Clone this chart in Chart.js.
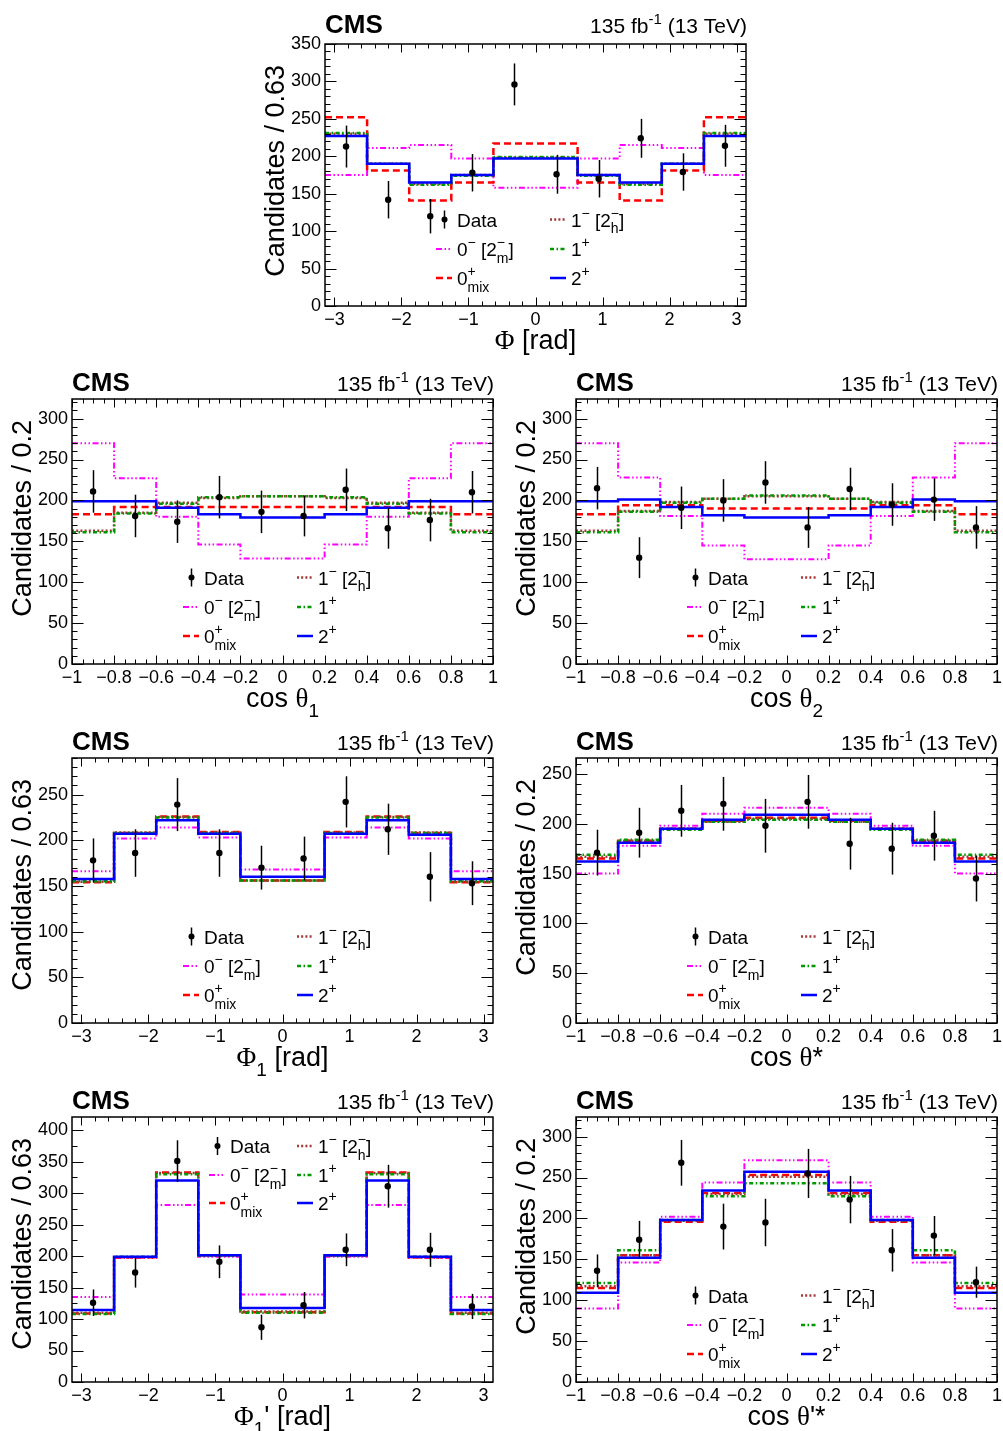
<!DOCTYPE html>
<html><head><meta charset="utf-8">
<script src="https://cdn.jsdelivr.net/npm/chart.js@4/dist/chart.umd.min.js"></script>
<style>
html,body{margin:0;padding:0;background:#fff;}
body{width:1003px;height:1431px;position:relative;overflow:hidden;}
canvas{position:absolute;}
</style></head><body>
<script>
// ---------- tick labels ----------
const phiTicks = [-3, -2, -1, 0, 1, 2, 3];
const cosTicks = [-1, -0.8, -0.6, -0.4, -0.2, 0, 0.2, 0.4, 0.6, 0.8, 1];
const yTicks350 = [0, 50, 100, 150, 200, 250, 300, 350];
const yTicks300 = [0, 50, 100, 150, 200, 250, 300];
const yTicks250 = [0, 50, 100, 150, 200, 250];
const yTicks400 = [0, 50, 100, 150, 200, 250, 300, 350, 400];

// ---------- Phi ----------
const phiData = [213, 142, 120, 178, 296, 176, 170, 224, 179, 214];
const phiErr  = [28, 25, 23, 25, 28, 26, 25, 26, 25, 28];
const phi0m   = [175, 211, 215, 197, 158, 158, 197, 215, 211, 175];
const phi0mix = [252, 181, 141, 165, 217, 217, 165, 141, 181, 252];
const phi1m   = [230, 190, 163, 175, 198, 198, 175, 163, 190, 230];
const phi1p   = [231, 190, 162, 174, 199, 199, 174, 162, 190, 231];
const phi2p   = [227, 190, 165, 175, 197, 197, 175, 165, 190, 227];

// ---------- cos theta1 ----------
const ct1Data = [211, 181, 174, 204, 186, 181, 213, 166, 176, 210];
const ct1Err  = [26, 26, 26, 26, 26, 25, 26, 25, 26, 26];
const ct10m   = [270, 227, 180, 146, 129, 129, 146, 180, 227, 270];
const ct10mix = [183, 192, 192, 192, 192, 192, 192, 192, 192, 183];
const ct11m   = [163, 185, 197, 203, 205, 205, 203, 197, 185, 163];
const ct11p   = [161, 184, 196, 204, 205, 205, 204, 196, 184, 161];
const ct12p   = [199, 199, 191, 183, 179, 179, 183, 191, 199, 199];

// ---------- cos theta2 ----------
const ct2Data = [215, 130, 191, 200, 222, 167, 214, 195, 201, 167];
const ct2Err  = [26, 25, 26, 26, 26, 25, 26, 26, 26, 26];
const ct20m   = [270, 228, 181, 145, 128, 128, 145, 181, 228, 270];
const ct20mix = [183, 194, 194, 190, 190, 190, 190, 194, 194, 183];
const ct21m   = [163, 187, 198, 202, 205, 205, 202, 198, 187, 163];
const ct21p   = [161, 186, 197, 202, 206, 206, 202, 197, 186, 161];
const ct22p   = [199, 201, 192, 182, 179, 179, 182, 192, 201, 199];

// ---------- Phi1 ----------
const phi1Data = [178, 186, 239, 186, 170, 180, 242, 212, 160, 153];
const phi1Err  = [24, 26, 29, 26, 24, 24, 28, 28, 27, 24];
const phi10m   = [166, 202, 214, 203, 168, 168, 203, 214, 202, 166];
const phi10mix = [154, 208, 226, 209, 156, 156, 209, 226, 208, 154];
const phi11m   = [154.5, 208.5, 225.5, 208.5, 156, 156, 208.5, 225.5, 208.5, 154.5];
const phi11p   = [155, 208, 225, 208, 156, 156, 208, 225, 208, 155];
const phi12p   = [157.5, 207, 222, 207, 160, 160, 207, 222, 206, 157.5];

// ---------- cos theta* ----------
const ctsData = [171, 191, 213, 220, 198, 222, 180, 175, 188, 145];
const ctsErr  = [23, 25, 26, 27, 27, 27, 26, 26, 25, 23];
const cts0m   = [150, 178, 198, 210, 216, 216, 210, 198, 178, 150];
const cts0mix = [165, 183, 195, 203, 206, 206, 203, 195, 183, 165];
const cts1m   = [167, 183, 195, 202, 205, 205, 202, 195, 183, 167];
const cts1p   = [169, 184, 194, 202, 204, 204, 202, 194, 184, 169];
const cts2p   = [162, 181, 195, 204, 209, 209, 204, 195, 181, 162];

// ---------- Phi1' ----------
const phi1pData = [126, 174, 351, 191, 87, 122, 210, 311, 210, 120];
const phi1pErr  = [21, 24, 33, 26, 20, 21, 26, 34, 27, 20];
const phi1p0m   = [135, 197, 281, 199, 139, 139, 199, 281, 197, 135];
const phi1p0mix = [109, 198, 333, 201.5, 111, 111, 201.5, 333, 198, 109];
const phi1p1m   = [110, 198, 332, 201, 112, 112, 201, 332, 198, 110];
const phi1p1p   = [108, 199, 330, 201, 110, 110, 201, 330, 199, 108];
const phi1p2p   = [114.5, 199, 320, 201.5, 117.5, 117.5, 201.5, 320, 199, 114.5];

// ---------- cos theta'* ----------
const ctpsData = [136, 174, 268, 190, 195, 255, 223, 161, 179, 122];
const ctpsErr  = [20, 23, 28, 28, 29, 30, 29, 26, 24, 19];
const ctps0m   = [90, 146, 202, 244, 271, 271, 244, 202, 146, 90];
const ctps0mix = [115, 155, 196, 231, 253, 253, 231, 196, 155, 115];
const ctps1m   = [117, 155, 197, 230, 251, 251, 230, 197, 155, 117];
const ctps1p   = [121, 161, 198, 227, 243, 243, 227, 198, 161, 121];
const ctps2p   = [109, 152, 198, 234, 257, 257, 234, 198, 152, 109];

// ---------- styling ----------
const SANS = '"Liberation Sans", Arial, Helvetica, sans-serif';
const SERIF = '"Liberation Serif", "Times New Roman", serif';
const STY = {
  m0:  {color: '#ff00ff', width: 2,   dash: [6, 2.5, 1.5, 2.5, 1.5, 2.5, 1.5, 2.5]},
  mix: {color: '#ff0000', width: 2.5, dash: [7, 4]},
  m1:  {color: '#a33636', width: 2.5, dash: [2, 2.2]},
  p1:  {color: '#009a00', width: 2.5, dash: [4, 2.5, 1.5, 2.5]},
  p2:  {color: '#0000ff', width: 2.5, dash: []}
};
const MARG = {l: 75, r: 8, t: 45, b: 60};
const FW = 421;
const TICKFONT = 18;
const TITLEFONT = 27;

const PI = Math.PI;
const panels = [
  {L: 325, T: 44, H: 262, xmin: -PI, xmax: PI, xt: phiTicks, xMaj: 1, xMin: 0.2, ymax: 350, yt: yTicks350, yMaj: 50, yMin: 10,
   yTitle: 'Candidates / 0.63', xTitle: [{t: 'Φ', fam: SERIF}, {t: ' [rad]'}],
   d: phiData, e: phiErr, h: {m0: phi0m, mix: phi0mix, m1: phi1m, p1: phi1p, p2: phi2p}, leg: 'bottom', cms: 11},
  {L: 72, T: 399, H: 265, xmin: -1, xmax: 1, xt: cosTicks, xMaj: 0.2, xMin: 0.05, ymax: 324, yt: yTicks300, yMaj: 50, yMin: 10,
   yTitle: 'Candidates / 0.2', xTitle: [{t: 'cos '}, {t: 'θ', fam: SERIF}, {t: '1', sub: 1}],
   d: ct1Data, e: ct1Err, h: {m0: ct10m, mix: ct10mix, m1: ct11m, p1: ct11p, p2: ct12p}, leg: 'bottom', cms: 8},
  {L: 576, T: 399, H: 265, xmin: -1, xmax: 1, xt: cosTicks, xMaj: 0.2, xMin: 0.05, ymax: 324, yt: yTicks300, yMaj: 50, yMin: 10,
   yTitle: 'Candidates / 0.2', xTitle: [{t: 'cos '}, {t: 'θ', fam: SERIF}, {t: '2', sub: 1}],
   d: ct2Data, e: ct2Err, h: {m0: ct20m, mix: ct20mix, m1: ct21m, p1: ct21p, p2: ct22p}, leg: 'bottom', cms: 8},
  {L: 72, T: 758, H: 265, xmin: -PI, xmax: PI, xt: phiTicks, xMaj: 1, xMin: 0.2, ymax: 290, yt: yTicks250, yMaj: 50, yMin: 10,
   yTitle: 'Candidates / 0.63', xTitle: [{t: 'Φ', fam: SERIF}, {t: '1', sub: 1}, {t: ' [rad]'}],
   d: phi1Data, e: phi1Err, h: {m0: phi10m, mix: phi10mix, m1: phi11m, p1: phi11p, p2: phi12p}, leg: 'bottom', cms: 8},
  {L: 576, T: 758, H: 265, xmin: -1, xmax: 1, xt: cosTicks, xMaj: 0.2, xMin: 0.05, ymax: 266, yt: yTicks250, yMaj: 50, yMin: 10,
   yTitle: 'Candidates / 0.2', xTitle: [{t: 'cos '}, {t: 'θ', fam: SERIF}, {t: '*'}],
   d: ctsData, e: ctsErr, h: {m0: cts0m, mix: cts0mix, m1: cts1m, p1: cts1p, p2: cts2p}, leg: 'bottom', cms: 8},
  {L: 72, T: 1117, H: 265, xmin: -PI, xmax: PI, xt: phiTicks, xMaj: 1, xMin: 0.2, ymax: 421, yt: yTicks400, yMaj: 50, yMin: 25,
   yTitle: 'Candidates / 0.63', xTitle: [{t: 'Φ', fam: SERIF}, {t: '1', sub: 1}, {t: '\' [rad]'}],
   d: phi1pData, e: phi1pErr, h: {m0: phi1p0m, mix: phi1p0mix, m1: phi1p1m, p1: phi1p1p, p2: phi1p2p}, leg: 'top', cms: 8},
  {L: 576, T: 1117, H: 265, xmin: -1, xmax: 1, xt: cosTicks, xMaj: 0.2, xMin: 0.05, ymax: 324, yt: yTicks300, yMaj: 50, yMin: 10,
   yTitle: 'Candidates / 0.2', xTitle: [{t: 'cos '}, {t: 'θ', fam: SERIF}, {t: '\'*'}],
   d: ctpsData, e: ctpsErr, h: {m0: ctps0m, mix: ctps0mix, m1: ctps1m, p1: ctps1p, p2: ctps2p}, leg: 'bottom', cms: 8}
];

const LEG = [
  [{k: 'data', s: [{t: 'Data'}]},
   {k: 'm1', s: [{t: '1'}, {t: '\u2212', sup: 1}, {t: ' [2'}, {stack: [{t: '\u2212', sup: 1}, {t: 'h', sub: 1}]}, {t: ']'}]}],
  [{k: 'm0', s: [{t: '0'}, {t: '\u2212', sup: 1}, {t: ' [2'}, {stack: [{t: '\u2212', sup: 1}, {t: 'm', sub: 1}]}, {t: ']'}]},
   {k: 'p1', s: [{t: '1'}, {t: '+', sup: 1}]}],
  [{k: 'mix', s: [{t: '0'}, {stack: [{t: '+', sup: 1}, {t: 'mix', sub: 1}]}]},
   {k: 'p2', s: [{t: '2'}, {t: '+', sup: 1}]}]
];

// ---------- helpers ----------
function edgesOf(xmin, xmax, n) { const e = []; for (let i = 0; i <= n; i++) e.push(xmin + (xmax - xmin) * i / n); return e; }
function histPts(e, v) { const p = v.map((y, i) => ({x: e[i], y})); p.push({x: e[e.length - 1], y: v[v.length - 1]}); return p; }
function centersOf(e) { return e.slice(0, -1).map((x, i) => (x + e[i + 1]) / 2); }
const fmt = v => (Math.round(v * 100) / 100).toString().replace('-', '\u2212');

function segFont(s, base) {
  const size = s.size || ((s.sup || s.sub) ? Math.round(base.size * 0.72) : base.size);
  return ((s.bold || base.bold) ? 'bold ' : '') + size + 'px ' + (s.fam || base.fam);
}
function segDy(s, base) {
  if (s.dy !== undefined) return s.dy;
  if (s.sup) return -base.size * 0.47;
  if (s.sub) return base.size * 0.36;
  return 0;
}
function segW(ctx, s, base) {
  if (s.stack) return Math.max(...s.stack.map(q => segW(ctx, q, base)));
  ctx.font = segFont(s, base); return ctx.measureText(s.t).width;
}
function drawSegs(ctx, segs, x, y, align, base) {
  ctx.save(); ctx.fillStyle = '#000'; ctx.textAlign = 'left'; ctx.textBaseline = 'alphabetic';
  const w = segs.reduce((a, s) => a + segW(ctx, s, base), 0);
  let cx = align === 'center' ? x - w / 2 : (align === 'right' ? x - w : x);
  for (const s of segs) {
    const sw = segW(ctx, s, base);
    for (const q of (s.stack || [s])) { ctx.font = segFont(q, base); ctx.fillText(q.t, cx, y + segDy(q, base)); }
    cx += sw;
  }
  ctx.restore();
}

function rootPlugin(p, idx) {
  const edges = edgesOf(p.xmin, p.xmax, p.d.length);
  const cen = centersOf(edges);
  return {
    id: 'rootStyle' + idx,
    afterDatasetsDraw(chart) {
      const ctx = chart.ctx, xs = chart.scales.x, ys = chart.scales.y;
      ctx.save(); ctx.strokeStyle = '#000'; ctx.lineWidth = 1.5;
      p.d.forEach((v, i) => {
        const x = Math.round(xs.getPixelForValue(cen[i])) + 0.5;
        ctx.beginPath();
        ctx.moveTo(x, ys.getPixelForValue(v - p.e[i]));
        ctx.lineTo(x, ys.getPixelForValue(v + p.e[i]));
        ctx.stroke();
      });
      ctx.restore();
    },
    afterDraw(chart) {
      const ctx = chart.ctx, xs = chart.scales.x, ys = chart.scales.y, a = chart.chartArea;
      ctx.save();
      ctx.strokeStyle = '#000';
      ctx.lineWidth = 1;
      ctx.beginPath();
      const k0 = Math.ceil(p.xmin / p.xMin - 1e-6), k1 = Math.floor(p.xmax / p.xMin + 1e-6);
      for (let k = k0; k <= k1; k++) {
        const v = k * p.xMin;
        const r = v / p.xMaj; const maj = Math.abs(r - Math.round(r)) < 1e-6;
        const len = maj ? 8.5 : 4.5;
        const x = Math.round(xs.getPixelForValue(v)) + 0.5;
        ctx.moveTo(x, a.bottom); ctx.lineTo(x, a.bottom - len);
        ctx.moveTo(x, a.top); ctx.lineTo(x, a.top + len);
      }
      const j1 = Math.floor(p.ymax / p.yMin + 1e-6);
      for (let j = 0; j <= j1; j++) {
        const v = j * p.yMin;
        const r = v / p.yMaj; const maj = Math.abs(r - Math.round(r)) < 1e-6;
        const len = maj ? 11.5 : 5.5;
        const y = Math.round(ys.getPixelForValue(v)) + 0.5;
        ctx.moveTo(a.left, y); ctx.lineTo(a.left + len, y);
        ctx.moveTo(a.right, y); ctx.lineTo(a.right - len, y);
      }
      ctx.stroke();
      ctx.lineWidth = 1.5;
      ctx.strokeRect(a.left, a.top, a.right - a.left, a.bottom - a.top);
      ctx.restore();

      drawSegs(ctx, [{t: 'CMS', bold: 1}], a.left, a.top - p.cms, 'left', {size: 26, fam: SANS});
      drawSegs(ctx, [{t: '135 fb'}, {t: '-1', size: 15, dy: -9}, {t: ' (13 TeV)'}], a.right + 1, a.top - p.cms, 'right', {size: 21, fam: SANS});
      drawSegs(ctx, p.xTitle, (a.left + a.right) / 2, a.bottom + 43, 'center', {size: TITLEFONT, fam: SANS});
      ctx.save();
      ctx.translate(a.left - 41, a.top + 21);
      ctx.rotate(-Math.PI / 2);
      drawSegs(ctx, [{t: p.yTitle}], 0, 0, 'right', {size: TITLEFONT, fam: SANS});
      ctx.restore();

      let rowsY, colX;
      if (p.leg === 'top') { rowsY = [a.top + 29, a.top + 58, a.top + 86]; colX = [a.left + 158, a.left + 246]; }
      else { rowsY = [a.bottom - 86.5, a.bottom - 57, a.bottom - 28]; colX = [a.left + 132, a.left + 246]; }
      LEG.forEach((row, ri) => row.forEach((ent, ci) => {
        const tx = colX[ci], yc = rowsY[ri];
        ctx.save();
        if (ent.k === 'data') {
          const mx = Math.round(tx - 13) + 0.5;
          ctx.strokeStyle = '#000'; ctx.lineWidth = 1.5;
          ctx.beginPath(); ctx.moveTo(mx, yc - 9); ctx.lineTo(mx, yc + 9); ctx.stroke();
          ctx.fillStyle = '#000'; ctx.beginPath(); ctx.arc(mx, yc, 3, 0, 2 * Math.PI); ctx.fill();
        } else {
          const st = STY[ent.k];
          ctx.strokeStyle = st.color; ctx.lineWidth = st.width; ctx.setLineDash(st.dash);
          ctx.beginPath(); ctx.moveTo(tx - 21, yc); ctx.lineTo(tx - 5, yc); ctx.stroke();
        }
        ctx.restore();
        drawSegs(ctx, ent.s, tx, yc + 7, 'left', {size: 19, fam: SANS});
      }));
    }
  };
}

panels.forEach((p, idx) => {
  const cv = document.createElement('canvas');
  const W = MARG.l + FW + MARG.r, Hc = MARG.t + p.H + MARG.b;
  cv.width = W; cv.height = Hc;
  cv.style.left = (p.L - MARG.l) + 'px'; cv.style.top = (p.T - MARG.t) + 'px';
  cv.style.width = W + 'px'; cv.style.height = Hc + 'px';
  document.body.appendChild(cv);

  const edges = edgesOf(p.xmin, p.xmax, p.d.length);
  const cen = centersOf(edges);
  const mk = (key) => ({
    type: 'line', data: histPts(edges, p.h[key]), stepped: true,
    borderColor: STY[key].color, borderWidth: STY[key].width, borderDash: STY[key].dash,
    pointRadius: 0, fill: false, tension: 0
  });
  const datasets = [
    {type: 'line', data: cen.map((x, i) => ({x, y: p.d[i]})), showLine: false,
     pointRadius: 3.2, pointBackgroundColor: '#000', pointBorderWidth: 0, borderColor: '#000'},
    mk('p2'), mk('p1'), mk('m1'), mk('mix'), mk('m0')
  ];
  new Chart(cv.getContext('2d'), {
    type: 'line',
    data: {datasets},
    options: {
      responsive: false, animation: false, events: [],
      layout: {padding: {left: 0, top: MARG.t, right: MARG.r, bottom: 0}},
      plugins: {legend: {display: false}, tooltip: {enabled: false}},
      scales: {
        x: {type: 'linear', min: p.xmin, max: p.xmax,
            grid: {display: false, drawTicks: false}, border: {display: false},
            afterFit(s) { s.height = MARG.b; s.paddingLeft = 0; s.paddingRight = 0; },
            afterBuildTicks(s) { s.ticks = p.xt.map(v => ({value: v})); },
            ticks: {color: '#000', font: {family: SANS, size: TICKFONT}, padding: 3, maxRotation: 0, autoSkip: false,
                    callback: v => fmt(v)}},
        y: {type: 'linear', min: 0, max: p.ymax,
            grid: {display: false, drawTicks: false}, border: {display: false},
            afterFit(s) { s.width = MARG.l; s.paddingTop = 0; s.paddingBottom = 0; },
            afterBuildTicks(s) { s.ticks = p.yt.map(v => ({value: v})); },
            ticks: {color: '#000', font: {family: SANS, size: TICKFONT}, padding: 4, autoSkip: false,
                    callback: v => fmt(v)}}
      }
    },
    plugins: [rootPlugin(p, idx)]
  });
});
</script>
</body></html>
